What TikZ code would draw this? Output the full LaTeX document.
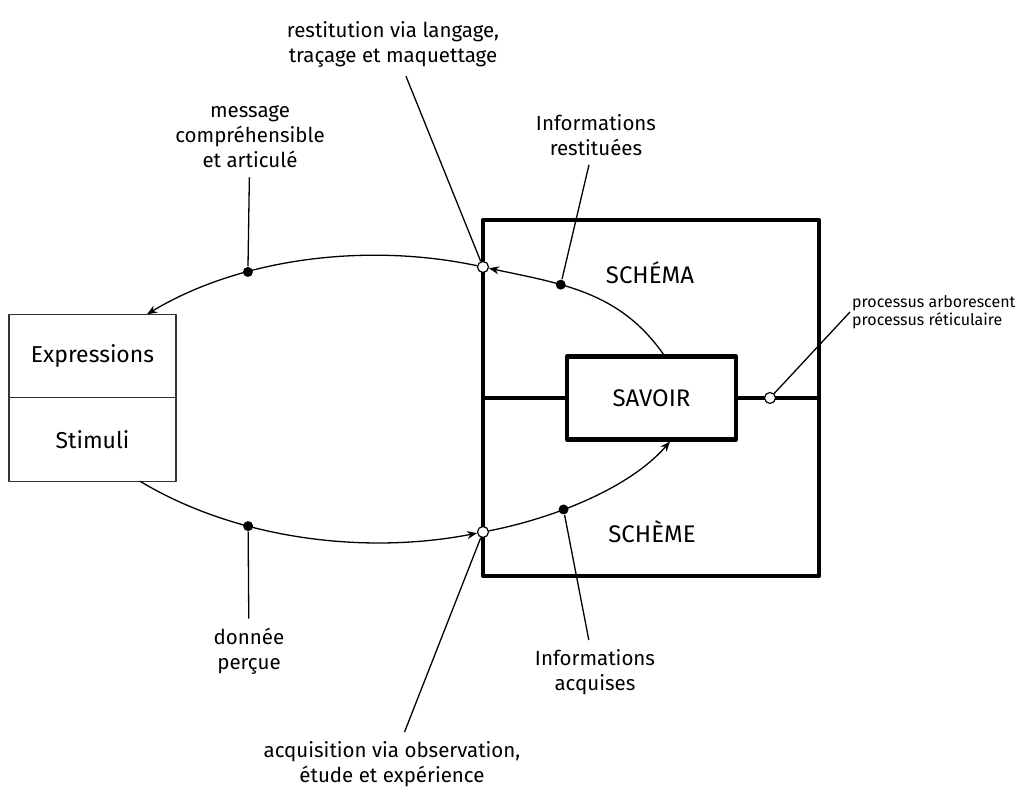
\documentclass[tikz,border=0pt]{standalone}
\usepackage{fontspec}
\setmainfont{Fira Sans}
\usetikzlibrary{arrows.meta,positioning}

\begin{document}
\begin{tikzpicture}[x=1pt, y=1pt, >={Stealth[length=10pt,width=8pt]}, line join=round,
  cadre/.style={draw, line width=4.2pt, inner sep=0pt},
  bloc/.style={draw=black!80, line width=1.4pt, outer sep=0pt, inner sep=0pt,
    minimum width=167pt, minimum height=83.5pt, font=\fontsize{23}{27}\selectfont},
  titre/.style={font=\fontsize{24}{28}\selectfont},
  legende/.style={align=center, inner sep=9pt, font=\fontsize{20.5}{25}\selectfont},
  point/.style={circle, fill=black, inner sep=0pt, minimum size=10pt},
  jonction/.style={circle, draw, fill=white, line width=1.2pt, inner sep=0pt, minimum size=11pt},
  fil/.style={line width=1.3pt}]
  \useasboundingbox (0,0) rectangle (1028,791);

  % entrees / sorties
  \node[bloc] (expr) at (92.5,435) {Expressions};
  \node[bloc, below=0pt of expr] (stim) {Stimuli};

  % schema / scheme
  \node[cadre, minimum width=336pt, minimum height=356pt] (cadre) at (651,393) {};
  \node[cadre, titre, minimum width=169pt, minimum height=83pt] (savoir) at (651.5,393) {SAVOIR};
  \draw[line width=4.2pt] (cadre.west) -- (savoir.west);
  \draw[line width=4.2pt] (savoir.east) -- (cadre.east);
  \node[titre] (schema) at (650,518) {SCHÉMA};
  \node[titre] (scheme) at (652,259) {SCHÈME};

  \node[jonction] (jh) at (483,524) {};
  \node[jonction] (jb) at (483,259) {};
  \node[jonction] (jp) at (770,393) {};

  % boucle du haut
  \draw[fil, ->] ([xshift=12pt]savoir.north) to[out=125, in=-12] node[point, pos=0.65] (p1) {} (jh);
  \draw[fil, ->] (jh) to[out=168, in=31, looseness=0.85] node[point, pos=0.675] (p2) {} ([xshift=54.5pt]expr.north);
  % boucle du bas
  \draw[fil, ->] ([xshift=47.5pt]stim.south) to[out=-31, in=191, looseness=0.85] node[point, pos=0.34] (p3) {} (jb);
  \draw[fil, ->] (jb) to[out=11, in=-131, looseness=0.8] node[point, pos=0.38] (p4) {} ([xshift=18.5pt]savoir.south);

  % legendes
  \node[legende] (lrest) at (393,747) {restitution via langage,\\traçage et maquettage};
  \node[legende] (lmsg) at (250,654) {message\\compréhensible\\et articulé};
  \node[legende] (linfr) at (596,656) {Informations\\restituées};
  \node[legende] (ldon) at (249,140) {donnée\\perçue};
  \node[legende] (linfa) at (595,119) {Informations\\acquises};
  \node[legende] (lacq) at (392,27) {acquisition via observation,\\étude et expérience};
  \node[align=left, anchor=west, inner sep=2pt, font=\fontsize{16}{18.5}\selectfont] (lproc) at (850,479) {processus arborescent\\processus réticulaire};

  \draw[fil] (lrest) -- (jh);
  \draw[fil] (lmsg) -- (p2);
  \draw[fil] (linfr) -- (p1);
  \draw[fil] (p3) -- (ldon);
  \draw[fil] (p4) -- (linfa);
  \draw[fil] (jb) -- (lacq);
  \draw[fil] (jp) -- (lproc.west);
\end{tikzpicture}
\end{document}
